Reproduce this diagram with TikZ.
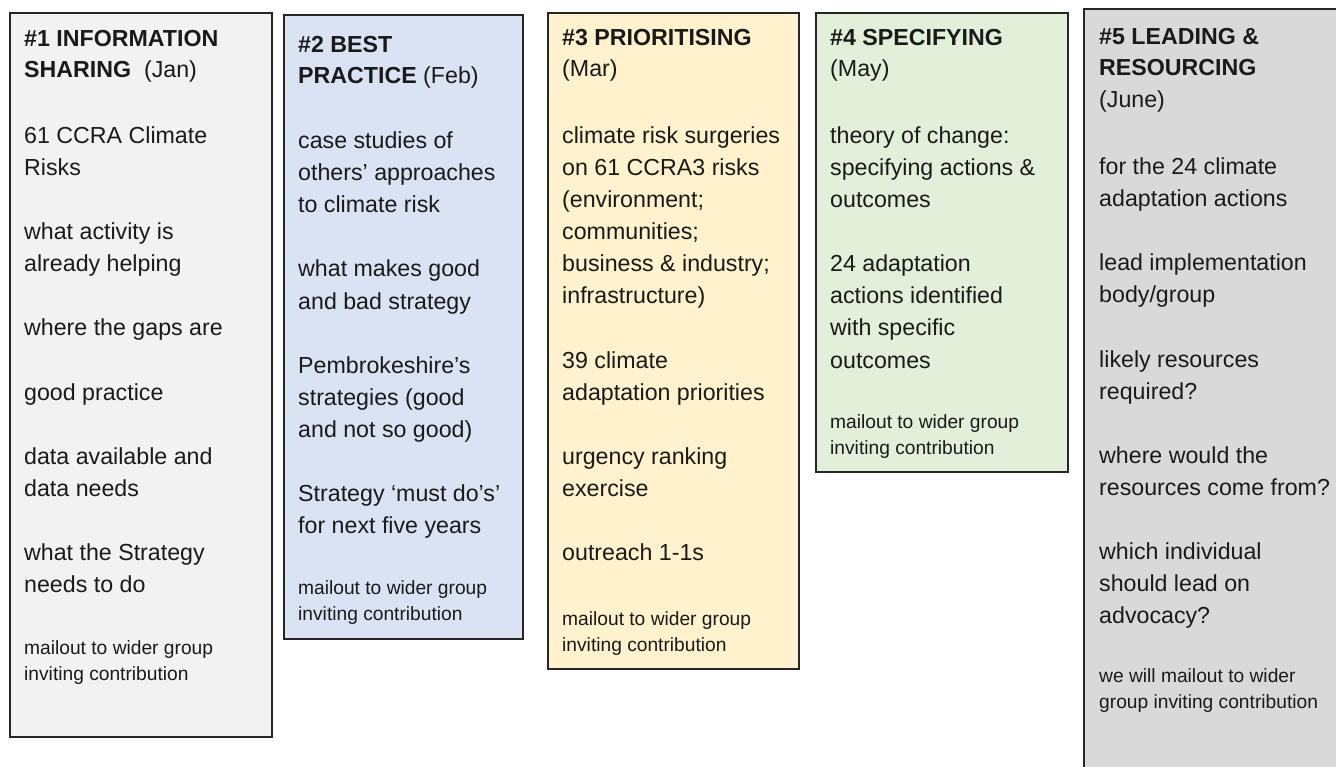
\documentclass[tikz,border=0pt]{standalone}
\usepackage{fontspec}
\setmainfont{Liberation Sans}
\definecolor{cA}{HTML}{F2F2F2}
\definecolor{cB}{HTML}{DAE3F3}
\definecolor{cC}{HTML}{FFF2CC}
\definecolor{cD}{HTML}{E2F0D9}
\definecolor{cE}{HTML}{D9D9D9}
\definecolor{ink}{HTML}{1A1A1A}
\newcommand\bigfnt{\fontsize{23.2}{32}\selectfont}
\newcommand\smallfnt{\fontsize{19.2}{25}\selectfont}
\tikzset{
  panel/.style={draw=black!85, line width=1.6pt},
  ln/.style={anchor=base west, inner sep=0pt, text=ink, font=\bigfnt},
  sm/.style={anchor=base west, inner sep=0pt, text=ink, font=\smallfnt},
}
\begin{document}
\begin{tikzpicture}[x=1pt,y=-1pt]
\useasboundingbox (0,0) rectangle (1336,767);
\fill[white] (0,0) rectangle (1336,767);
% panels
\draw[panel, fill=cA] (10,13) rectangle (272,737);
\draw[panel, fill=cB] (284,15) rectangle (523,639);
\draw[panel, fill=cC] (548,13) rectangle (799,669);
\draw[panel, fill=cD] (816,13) rectangle (1068,472);
\draw[panel, fill=cE] (1084,9) rectangle (1350,790);
% box 1
\foreach \yy/\tx [count=\i] in {
  47/{\textbf{\#1 INFORMATION}},
  78/{\textbf{SHARING}\ \ (Jan)},
  144/{61 CCRA Climate},
  176/{Risks},
  240/{what activity is},
  272/{already helping},
  336/{where the gaps are},
  400/{good practice},
  464/{data available and},
  496/{data needs},
  560/{what the Strategy},
  592/{needs to do}}
  \node[ln, name=a\i] at (24,\yy) {\tx};
\node[sm, name=as1] at (24,654) {mailout to wider group};
\node[sm, name=as2] at (24,680) {inviting contribution};
% box 2
\foreach \yy/\tx [count=\i] in {
  53/{\textbf{\#2 BEST}},
  84/{\textbf{PRACTICE} (Feb)},
  149/{case studies of},
  181/{others’ approaches},
  213/{to climate risk},
  277/{what makes good},
  309/{and bad strategy},
  373/{Pembrokeshire’s},
  405/{strategies (good},
  437/{and not so good)},
  501/{Strategy ‘must do’s’},
  533/{for next five years}}
  \node[ln, name=b\i] at (298,\yy) {\tx};
\node[sm, name=bs1] at (298,594) {mailout to wider group};
\node[sm, name=bs2] at (298,620) {inviting contribution};
% box 3
\foreach \yy/\tx [count=\i] in {
  46/{\textbf{\#3 PRIORITISING}},
  77/{(Mar)},
  144/{climate risk surgeries},
  176/{on 61 CCRA3 risks},
  208/{(environment;},
  240/{communities;},
  272/{business \& industry;},
  304/{infrastructure)},
  368/{39 climate},
  400/{adaptation priorities},
  464/{urgency ranking},
  496/{exercise},
  560/{outreach 1-1s}}
  \node[ln, name=c\i] at (562,\yy) {\tx};
\node[sm, name=cs1] at (562,625) {mailout to wider group};
\node[sm, name=cs2] at (562,651) {inviting contribution};
% box 4
\foreach \yy/\tx [count=\i] in {
  46/{\textbf{\#4 SPECIFYING}},
  77/{(May)},
  144/{theory of change:},
  176/{specifying actions \&},
  208/{outcomes},
  272/{24 adaptation},
  304/{actions identified},
  336/{with specific},
  368/{outcomes}}
  \node[ln, name=d\i] at (830,\yy) {\tx};
\node[sm, name=ds1] at (830,428) {mailout to wider group};
\node[sm, name=ds2] at (830,454) {inviting contribution};
% box 5
\foreach \yy/\tx [count=\i] in {
  45/{\textbf{\#5 LEADING \&}},
  76/{\textbf{RESOURCING}},
  108/{(June)},
  175/{for the 24 climate},
  207/{adaptation actions},
  271/{lead implementation},
  303/{{body/group}},
  367/{likely resources},
  399/{required?},
  463/{where would the},
  495/{resources come from?},
  559/{which individual},
  591/{should lead on},
  623/{advocacy?}}
  \node[ln, name=e\i] at (1099,\yy) {\tx};
\node[sm, name=es1] at (1099,682) {we will mailout to wider};
\node[sm, name=es2] at (1099,708) {group inviting contribution};
\end{tikzpicture}
\end{document}
